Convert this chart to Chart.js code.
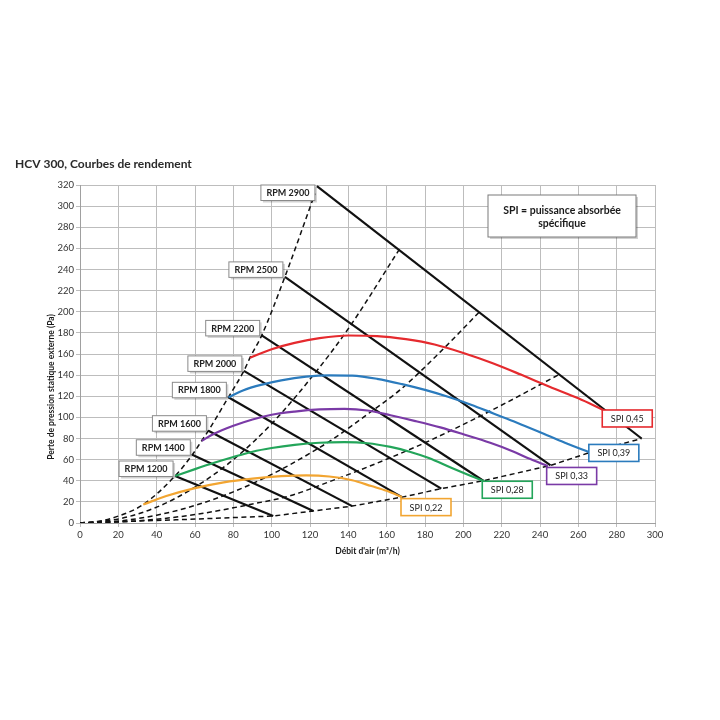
<!DOCTYPE html>
<html>
<head>
<meta charset="utf-8">
<script src="https://cdn.jsdelivr.net/npm/chart.js@4.4.0/dist/chart.umd.min.js"></script>
<style>
  html, body { margin: 0; background: #fff; }
  canvas { display: block; }
</style>
</head>
<body>
<canvas id="chart" width="720" height="720"></canvas>
<script>
// -------------------------------------------------
//  DONNÉES
// -------------------------------------------------
const chartTitle = "HCV 300, Courbes de rendement";
const xTitle = "Débit d'air (m³/h)";
const yTitle = "Perte de pression statique externe (Pa)";
const legendLines = ["SPI = puissance absorbée", "spécifique"];

// droites RPM (début -> fin)
const rpmNames  = ["RPM 1200", "RPM 1400", "RPM 1600", "RPM 1800", "RPM 2000", "RPM 2200", "RPM 2500", "RPM 2900"];
const rpmStartX = [49.6, 58.6, 67, 77.4, 85.5, 94.8, 106.9, 123.6];
const rpmStartY = [44.5, 64.6, 87.4, 119, 144, 177.6, 233, 319];
const rpmEndX   = [100.8, 121.7, 142, 168, 188.5, 210.4, 245.5, 293];
const rpmEndY   = [6.6, 11.4, 16, 24.5, 32.5, 40, 54.5, 80];

// courbes SPI
const spiNames  = ["SPI 0,22", "SPI 0,28", "SPI 0,33", "SPI 0,39", "SPI 0,45"];
const spi022X = [33, 45, 60, 75, 90, 105, 118, 130, 142, 152, 160, 168];
const spi022Y = [17.5, 25.5, 33, 38.5, 42, 44.3, 45, 44, 40.5, 35, 30.5, 24.5];
const spi028X = [49.6, 60, 70, 80, 90, 100, 112, 125, 138, 150, 162, 172, 182, 194, 204, 210.4];
const spi028Y = [44.5, 51, 57, 62.5, 67.5, 71, 74, 76, 76.5, 75.5, 72, 67.5, 61.5, 52, 44.5, 40];
const spi033X = [63.5, 70, 80, 90, 100, 112, 125, 138, 150, 162, 175, 188, 200, 214, 225, 235, 244];
const spi033Y = [77.9, 84.5, 92, 98, 102.5, 105.5, 107.5, 108, 106.5, 102, 96.5, 90.5, 84, 76, 68.5, 60.5, 54];
const spi039X = [77.4, 85, 95, 105, 118, 130, 142, 155, 168, 180, 192, 204, 216, 228, 240, 253, 266];
const spi039Y = [119, 125.5, 131, 135, 138.5, 139.8, 139.5, 136.5, 131.5, 126, 119.5, 112, 103.5, 95, 86, 76, 66.8];
const spi045X = [88.7, 100, 112, 125, 140, 155, 170, 185, 200, 215, 230, 245, 260, 273];
const spi045Y = [156.5, 164.5, 170.5, 175, 177.5, 177, 174, 169, 161, 151.5, 140.5, 129, 118, 107];

// courbes de réseau (pointillés)
const sysAX = [0, 10, 20, 33, 49.6, 58.6, 63.5, 67, 77.4, 85.5, 88.7, 94.8, 106.9, 122.6];
const sysAY = [0, 1.7, 6.5, 17.5, 44.5, 64.6, 77.9, 87.4, 119, 144, 156.5, 177.6, 233, 312];
const sysBX = [0, 20, 40, 60, 80, 100, 123.5, 140, 166.6];
const sysBY = [0, 3.8, 15, 34, 60, 94, 144, 184, 259];
const sysCX = [0, 20, 40, 60, 80, 100, 120, 132, 150, 167, 188, 209];
const sysCY = [0, 1.8, 7.4, 16.6, 29.5, 46, 66, 79.5, 103, 126, 162, 201];
const sysDX = [0, 30, 60, 90, 110, 130, 150, 180, 214, 250.4];
const sysDY = [0, 2, 8, 18, 26, 39, 53, 76, 106, 141];
const sysEX = [0, 50, 100.8, 121.7, 142, 168, 188.5, 210.4, 245.5, 266, 293];
const sysEY = [0, 3, 6.6, 11.4, 16, 24.5, 32.5, 40, 54.5, 66.8, 80];

// -------------------------------------------------
//  HELPERS
// -------------------------------------------------
const FONT = "Lato, 'Open Sans', sans-serif";
const pts = (xs, ys) => xs.map((x, i) => ({ x, y: ys[i] }));

const spiColors = ["#f2a531", "#23a55a", "#7a3aa6", "#2b7bbd", "#e52a2e"];
const spiData = [pts(spi022X, spi022Y), pts(spi028X, spi028Y), pts(spi033X, spi033Y),
                 pts(spi039X, spi039Y), pts(spi045X, spi045Y)];

const datasets = [];

// courbes colorées (dessus)
spiData.forEach((d, i) => {
    datasets.push({
        data: d,
        borderColor: spiColors[i],
        borderWidth: 2.2,
        pointRadius: 0,
        cubicInterpolationMode: "monotone",
        fill: false
    });
});

// droites RPM
rpmNames.forEach((n, i) => {
    datasets.push({
        data: [{ x: rpmStartX[i], y: rpmStartY[i] }, { x: rpmEndX[i], y: rpmEndY[i] }],
        borderColor: "#111",
        borderWidth: 2.2,
        pointRadius: 0,
        fill: false
    });
});

// pointillés
[[sysAX, sysAY, true], [sysBX, sysBY, true], [sysCX, sysCY, true],
 [sysDX, sysDY, true], [sysEX, sysEY, false]].forEach(([xs, ys, smooth]) => {
    datasets.push({
        data: pts(xs, ys),
        borderColor: "#111",
        borderWidth: 1.5,
        borderDash: [5, 3.5],
        pointRadius: 0,
        cubicInterpolationMode: smooth ? "monotone" : "default",
        tension: 0,
        fill: false
    });
});

// -------------------------------------------------
//  ÉTIQUETTES / CADRES
// -------------------------------------------------
function drawBox(ctx, l, t, w, h, stroke, lw, shadow) {
    if (shadow) {
        ctx.fillStyle = "rgba(0,0,0,0.18)";
        ctx.fillRect(l + 2, t + 2, w, h);
    }
    ctx.fillStyle = "#fff";
    ctx.fillRect(l, t, w, h);
    ctx.strokeStyle = stroke;
    ctx.lineWidth = lw;
    ctx.strokeRect(l, t, w, h);
}

const spiBoxDy = [1.5, 0.5, 1.5, -8, 0];

const annotPlugin = {
    id: "annot",
    afterDatasetsDraw(chart) {
        const { ctx, chartArea: a, scales: { x, y } } = chart;
        ctx.save();
        ctx.textAlign = "center";
        ctx.textBaseline = "middle";

        // RPM
        ctx.font = "bold 9px " + FONT;
        rpmNames.forEach((n, i) => {
            const px = x.getPixelForValue(rpmStartX[i]);
            const py = y.getPixelForValue(rpmStartY[i]);
            const w = 54, h = 15.5;
            const l = px - 2 - w;
            let t = py + 0.5 - h;
            if (t < a.top) t = a.top;
            drawBox(ctx, l, t, w, h, "#8a8a8a", 1, true);
            ctx.fillStyle = "#222";
            ctx.fillText(n, l + w / 2, t + h / 2 + 0.5);
        });

        // SPI
        ctx.font = "9px " + FONT;
        spiNames.forEach((n, i) => {
            const last = spiData[i][spiData[i].length - 1];
            const px = x.getPixelForValue(last.x);
            const py = y.getPixelForValue(last.y);
            const w = 50, h = 17;
            const l = px - 1, t = py + spiBoxDy[i];
            drawBox(ctx, l, t, w, h, spiColors[i], 1.6, false);
            ctx.fillStyle = "#222";
            ctx.fillText(n, l + w / 2, t + h / 2 + 0.5);
        });

        // légende
        const lw = 148, lh = 42;
        const ll = a.right - 167, lt = a.top + 10;
        drawBox(ctx, ll, lt, lw, lh, "#7a7a7a", 1, true);
        ctx.font = "bold 10.5px " + FONT;
        ctx.fillStyle = "#1a1a1a";
        ctx.fillText(legendLines[0], ll + lw / 2, lt + 15.5);
        ctx.fillText(legendLines[1], ll + lw / 2, lt + 28.5);
        ctx.restore();
    },
    afterDraw(chart) {
        const { ctx } = chart;
        ctx.save();
        ctx.fillStyle = "#2a2a2a";
        ctx.font = "bold 12px " + FONT;
        ctx.textAlign = "left";
        ctx.textBaseline = "middle";
        ctx.fillText(chartTitle, 15, 164);

        ctx.translate(51, 387);
        ctx.rotate(-Math.PI / 2);
        ctx.textAlign = "center";
        ctx.font = "bold 8.5px " + FONT;
        ctx.fillStyle = "#1a1a1a";
        ctx.fillText(yTitle, 0, 0);
        ctx.restore();
    }
};

// -------------------------------------------------
//  GRAPHIQUE
// -------------------------------------------------
const gridColor = "#bdbdbd";

new Chart(document.getElementById("chart"), {
    type: "line",
    data: { datasets },
    options: {
        responsive: false,
        animation: false,
        events: [],
        layout: { padding: { left: 40, right: 65, top: 185, bottom: 160 } },
        plugins: {
            legend: { display: false },
            tooltip: { enabled: false },
            title: { display: false }
        },
        scales: {
            x: {
                type: "linear",
                min: 0,
                max: 300,
                afterFit: s => { s.height = 37; },
                ticks: { stepSize: 20, color: "#333", font: { family: FONT, size: 9.5 }, padding: 2, maxRotation: 0 },
                grid: { color: gridColor, tickLength: 4, lineWidth: 1 },
                border: { color: "#a0a0a0", width: 1 },
                title: {
                    display: true,
                    text: xTitle,
                    color: "#1a1a1a",
                    font: { family: FONT, size: 8.5, weight: "bold" },
                    padding: { top: 2, bottom: 4 }
                }
            },
            y: {
                type: "linear",
                min: 0,
                max: 320,
                afterFit: s => { s.width = 40; },
                ticks: { stepSize: 20, color: "#333", font: { family: FONT, size: 9.5 }, padding: 2 },
                grid: { color: gridColor, tickLength: 4, lineWidth: 1 },
                border: { color: "#a0a0a0", width: 1 }
            }
        }
    },
    plugins: [annotPlugin]
});
</script>
</body>
</html>
